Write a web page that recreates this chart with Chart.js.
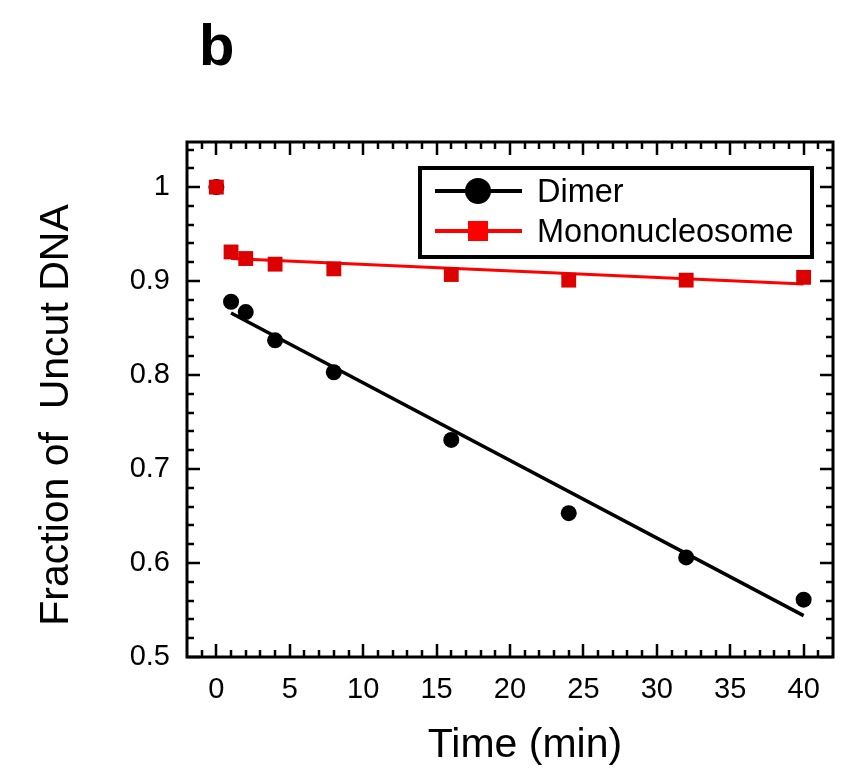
<!DOCTYPE html>
<html>
<head>
<meta charset="utf-8">
<script src="https://cdn.jsdelivr.net/npm/chart.js@4.4.1/dist/chart.umd.min.js"></script>
<style>
  html, body { margin: 0; padding: 0; background: #fff; }
  canvas { display: block; }
</style>
</head>
<body>
<canvas id="chart" width="867" height="783"></canvas>
<script>
// values
const times = [0, 1, 2, 4, 8, 16, 24, 32, 40];
const dimer = [1.0, 0.878, 0.867, 0.837, 0.803, 0.731, 0.653, 0.606, 0.561];
const mono = [1.0, 0.931, 0.924, 0.918, 0.913, 0.907, 0.901, 0.901, 0.904];
const fitTimes = [1, 40];
const dimerFit = [0.866, 0.544];
const monoFit = [0.924, 0.897];
const xTicks = [0, 5, 10, 15, 20, 25, 30, 35, 40];
const yTicks = [0.5, 0.6, 0.7, 0.8, 0.9, 1];
const yTickLabels = ['0.5', '0.6', '0.7', '0.8', '0.9', '1'];
const xTitle = 'Time (min)';
const yTitle = 'Fraction of  Uncut DNA';

const FONT = '"Liberation Sans", Arial, sans-serif';

function pts(xs, ys) {
    return xs.map((t, i) => ({ x: t, y: ys[i] }));
}

// frame, inward ticks on all sides, axis titles, legend box and panel letter
const framePlugin = {
    id: 'frame',
    afterDraw(chart) {
        const ctx = chart.ctx;
        const a = chart.chartArea;
        const x = chart.scales.x, y = chart.scales.y;
        ctx.save();
        ctx.strokeStyle = '#000';
        ctx.lineWidth = 2.5;
        ctx.beginPath();
        for (let i = -1; i <= 41; i++) {
            const major = i % 5 === 0 && i >= 0 && i <= 40;
            const len = major ? 13 : 7;
            const px = Math.round(x.getPixelForValue(i));
            ctx.moveTo(px, a.bottom); ctx.lineTo(px, a.bottom - len);
            ctx.moveTo(px, a.top); ctx.lineTo(px, a.top + len);
        }
        for (let k = 25; k <= 52; k++) {
            const major = k % 5 === 0;
            const len = major ? 13 : 7;
            const py = Math.round(y.getPixelForValue(k * 0.02));
            ctx.moveTo(a.left, py); ctx.lineTo(a.left + len, py);
            ctx.moveTo(a.right, py); ctx.lineTo(a.right - len, py);
        }
        ctx.stroke();
        ctx.lineWidth = 3;
        ctx.strokeRect(a.left, a.top, a.right - a.left, a.bottom - a.top);

        // axis titles
        ctx.fillStyle = '#000';
        ctx.font = '41px ' + FONT;
        ctx.textAlign = 'center';
        ctx.textBaseline = 'alphabetic';
        ctx.fillText(xTitle, 525, 757);
        ctx.save();
        ctx.translate(68, 415);
        ctx.rotate(-Math.PI / 2);
        ctx.fillText(yTitle, 0, 0);
        ctx.restore();

        // legend
        ctx.fillStyle = '#fff';
        ctx.fillRect(420, 168, 392, 89);
        ctx.lineWidth = 4;
        ctx.strokeRect(420, 168, 392, 89);
        const rows = [
            { label: 'Dimer', color: '#000', marker: 'circle', cy: 191 },
            { label: 'Mononucleosome', color: '#ff0000', marker: 'square', cy: 231 }
        ];
        rows.forEach(r => {
            ctx.strokeStyle = r.color;
            ctx.fillStyle = r.color;
            ctx.lineWidth = 4;
            ctx.beginPath();
            ctx.moveTo(435, r.cy); ctx.lineTo(522, r.cy);
            ctx.stroke();
            if (r.marker === 'circle') {
                ctx.beginPath();
                ctx.arc(478, r.cy, 13, 0, Math.PI * 2);
                ctx.fill();
            } else {
                ctx.fillRect(468, r.cy - 10, 20, 20);
            }
            ctx.fillStyle = '#000';
            ctx.font = '32.5px ' + FONT;
            ctx.textAlign = 'left';
            ctx.textBaseline = 'middle';
            ctx.fillText(r.label, 537, r.cy + 2);
        });

        ctx.fillStyle = '#000';
        ctx.font = 'bold 58px ' + FONT;
        ctx.textAlign = 'left';
        ctx.textBaseline = 'alphabetic';
        ctx.fillText('b', 199, 65);
        ctx.restore();
    }
};

new Chart(document.getElementById('chart'), {
    type: 'scatter',
    data: {
        datasets: [
            {
                label: 'Mononucleosome',
                data: pts(times, mono),
                backgroundColor: '#dd0000',
                borderColor: '#dd0000',
                pointStyle: 'rect',
                pointRadius: 10.5,
                borderWidth: 0,
                order: 0
            },
            {
                label: 'Mononucleosome fit',
                type: 'line',
                data: pts(fitTimes, monoFit),
                borderColor: '#ff0000',
                borderWidth: 3,
                pointRadius: 0,
                fill: false,
                order: 1
            },
            {
                label: 'Dimer',
                data: pts(times, dimer),
                backgroundColor: '#000',
                borderColor: '#000',
                pointStyle: 'circle',
                pointRadius: 8,
                borderWidth: 0,
                order: 2
            },
            {
                label: 'Dimer fit',
                type: 'line',
                data: pts(fitTimes, dimerFit),
                borderColor: '#000',
                borderWidth: 3.5,
                pointRadius: 0,
                fill: false,
                order: 3
            }
        ]
    },
    options: {
        responsive: false,
        animation: false,
        layout: { padding: { left: 10, right: 34, top: 142, bottom: 0 } },
        plugins: {
            legend: { display: false },
            tooltip: { enabled: false }
        },
        scales: {
            x: {
                type: 'linear',
                min: -2,
                max: 42,
                grid: { display: false, drawTicks: false },
                border: { display: false },
                afterBuildTicks: s => { s.ticks = xTicks.map(v => ({ value: v })); },
                afterFit: s => { s.height = 126; },
                ticks: {
                    color: '#000',
                    padding: 16,
                    maxRotation: 0,
                    font: { family: FONT, size: 29 },
                    callback: v => String(v)
                }
            },
            y: {
                type: 'linear',
                min: 0.5,
                max: 1.048,
                grid: { display: false, drawTicks: false },
                border: { display: false },
                afterBuildTicks: s => { s.ticks = yTicks.map(v => ({ value: v })); },
                afterFit: s => { s.width = 177; },
                ticks: {
                    color: '#000',
                    padding: 17,
                    font: { family: FONT, size: 29 },
                    callback: (v, i) => yTickLabels[i]
                }
            }
        }
    },
    plugins: [framePlugin]
});
</script>
</body>
</html>
